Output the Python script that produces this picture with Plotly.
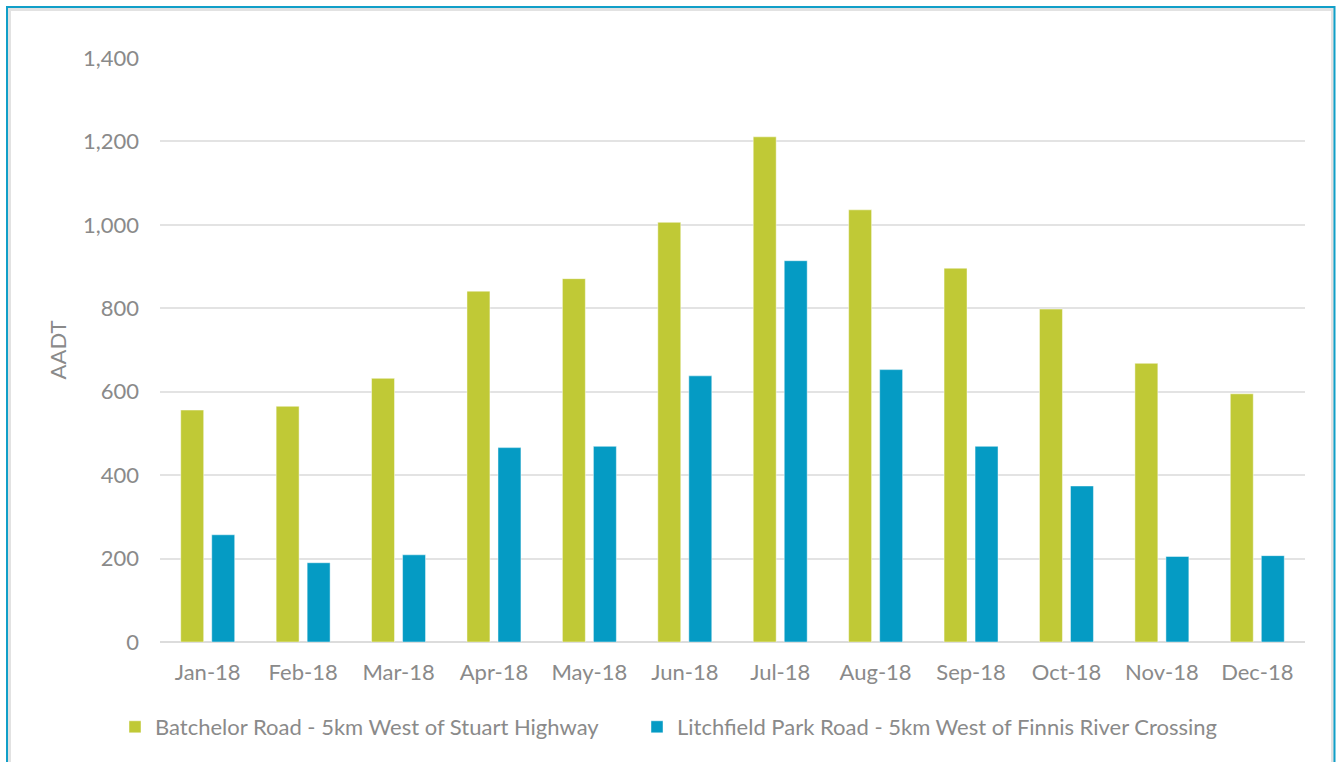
import plotly.graph_objects as go

months = ["Jan-18", "Feb-18", "Mar-18", "Apr-18", "May-18", "Jun-18",
          "Jul-18", "Aug-18", "Sep-18", "Oct-18", "Nov-18", "Dec-18"]
batchelor = [556, 565, 632, 841, 871, 1006, 1211, 1036, 896, 798, 668, 595]
litchfield = [257, 190, 209, 466, 469, 638, 914, 653, 469, 374, 205, 207]
series_names = ["Batchelor Road - 5km West of Stuart Highway",
                "Litchfield Park Road - 5km West of Finnis River Crossing"]
y_ticks = [0, 200, 400, 600, 800, 1000, 1200, 1400]

GREEN = "#C0C936"
BLUE = "#059BC4"
TEXT = "#8a8a8a"
FONT = "Lato"
FS = 22

W, H = 1336, 762
L, R, T, B = 160, 31, 58, 120
PW, PH = W - L - R, H - T - B


def px_x(px):
    return (px - L) / PW


def px_y(py):
    return (H - B - py) / PH


fig = go.Figure()
fig.add_trace(go.Bar(x=months, y=batchelor, name=series_names[0], legend="legend",
                     marker=dict(color=GREEN, line=dict(color="rgba(255,255,255,0.45)", width=1))))
fig.add_trace(go.Bar(x=months, y=litchfield, name=series_names[1], legend="legend2",
                     marker=dict(color=BLUE, line=dict(color="rgba(255,255,255,0.45)", width=1))))

legend_common = dict(orientation="h", xanchor="left", y=px_y(727), yanchor="middle",
                     font=dict(family=FONT, size=FS, color=TEXT),
                     bgcolor="rgba(0,0,0,0)")

fig.update_layout(
    width=W, height=H,
    margin=dict(l=L, r=R, t=T, b=B, pad=0),
    paper_bgcolor="white", plot_bgcolor="white",
    barmode="group", bargap=0.35, bargroupgap=0.26,
    font=dict(family=FONT, size=FS, color=TEXT),
    showlegend=True,
    legend=dict(x=px_x(115), **legend_common),
    legend2=dict(x=px_x(637), **legend_common),
    xaxis=dict(showgrid=False, showline=False, zeroline=False, ticks="",
               ticklabelstandoff=15, tickfont=dict(size=FS, color=TEXT)),
    yaxis=dict(range=[0, 1400], tickvals=y_ticks, tickformat=",d",
               showgrid=True, gridcolor="#e3e3e3", gridwidth=1.5,
               zeroline=True, zerolinecolor="#dcdcdc", zerolinewidth=1.5,
               showline=False, ticks="", ticklabelstandoff=20,
               tickfont=dict(size=FS, color=TEXT),
               title=dict(text="AADT", standoff=10, font=dict(size=22, color=TEXT))),
    shapes=[
        dict(type="rect", xref="paper", yref="paper",
             x0=px_x(9.5), x1=px_x(1332.5), y0=px_y(790), y1=px_y(9.5),
             line=dict(color="#e2e2e2", width=3), fillcolor="rgba(0,0,0,0)", layer="below"),
        dict(type="rect", xref="paper", yref="paper",
             x0=px_x(7), x1=px_x(1334.5), y0=px_y(790), y1=px_y(7),
             line=dict(color="#119FC8", width=2), fillcolor="rgba(0,0,0,0)", layer="below"),
    ],
)

fig.write_html("out.html", config={"displayModeBar": False},
               post_script="document.body.style.margin='0';document.body.style.overflow='hidden';")
